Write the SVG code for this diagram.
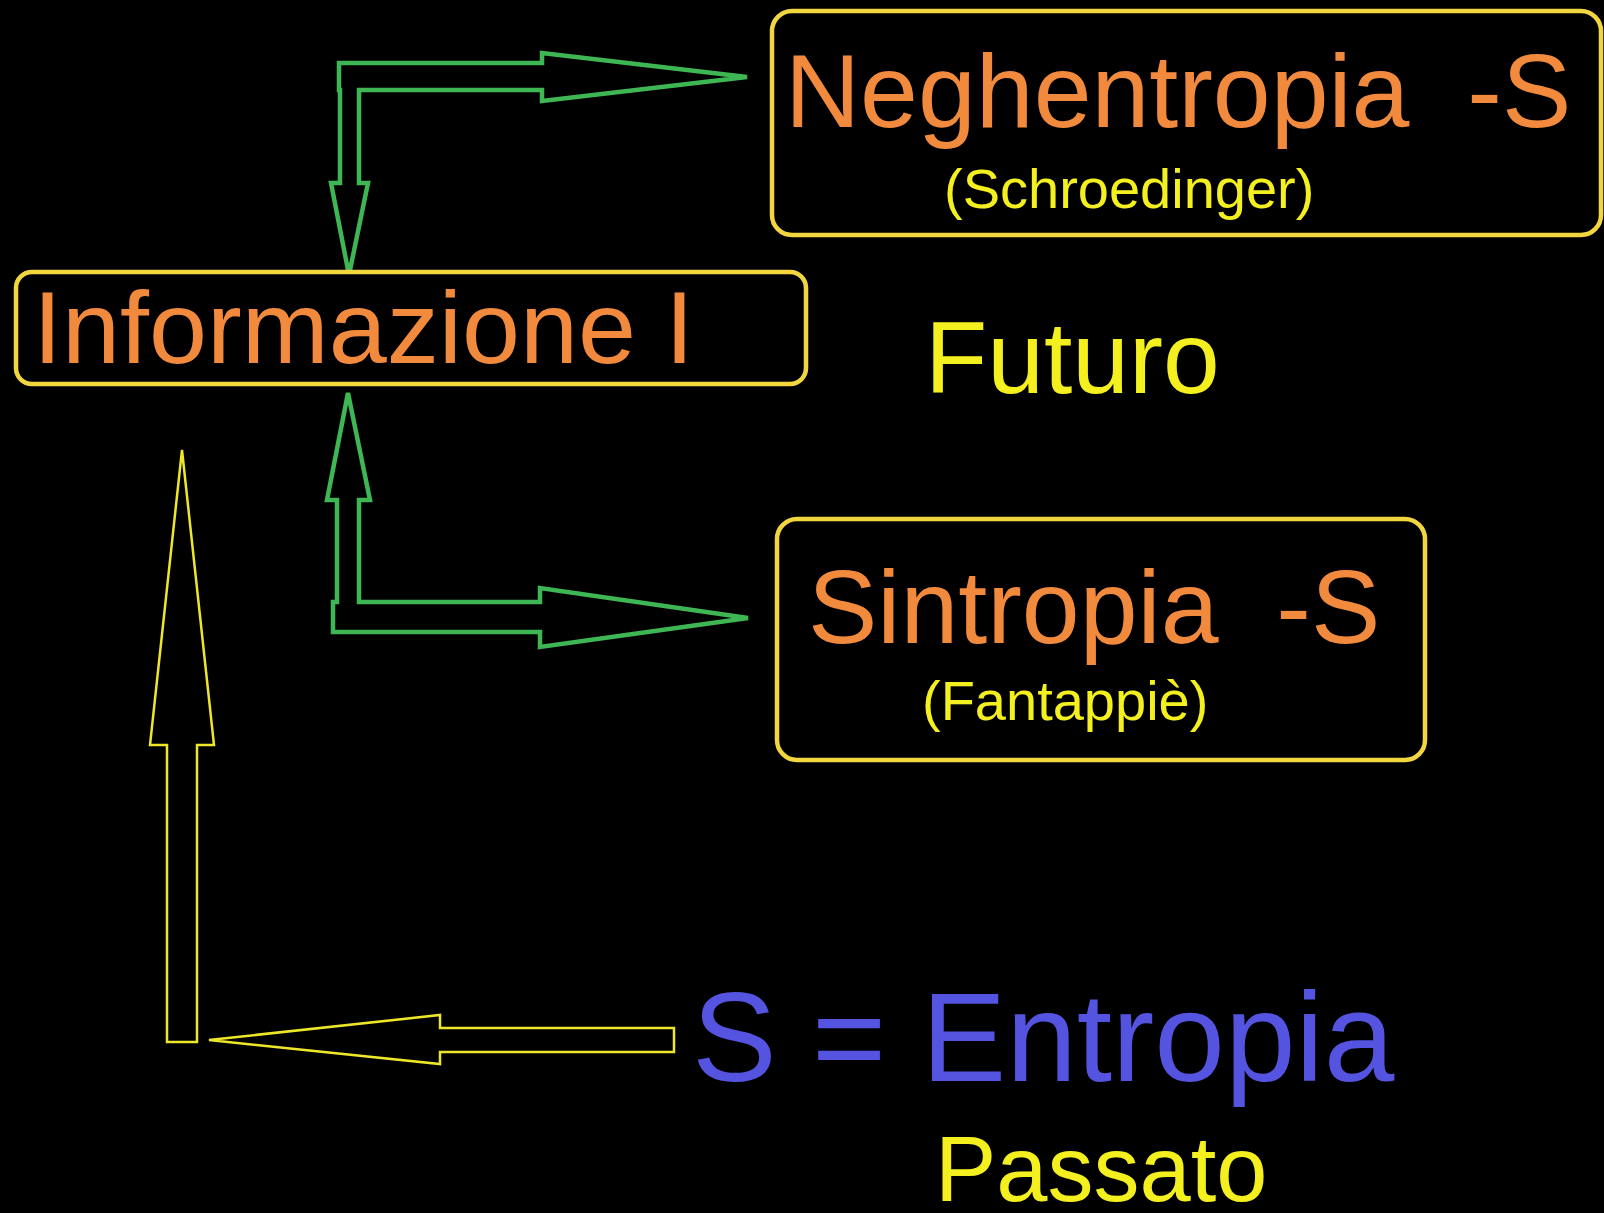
<svg xmlns="http://www.w3.org/2000/svg" width="1604" height="1213" viewBox="0 0 1604 1213">
<style>
.box{fill:#000;stroke:#f2d640;stroke-width:4.5}
.t{font-family:"Liberation Sans",Arial,sans-serif;white-space:pre}
.org{fill:#f28a3e}
.yel{fill:#f4ef1e}
.blu{fill:#5454e0}
.g{fill:none;stroke:#3db653;stroke-width:4.5;stroke-linejoin:miter}
.y{fill:none;stroke:#eee628;stroke-width:2.5;stroke-linejoin:miter}
</style>
<rect width="1604" height="1213" fill="#000"/>
<g id="connectors">
<polygon class="g" points="339,63 542,63 542,53 747,77 542,101 542,90 359,90 359,183 368,183 349,275 331,183 340,183 340,90 339,90"/>
<polygon class="g" points="359,602 540,602 540,588 748,618 540,647 540,632 333,632 333,602 337,602 337,500 327,500 348,393 370,500 359,500"/>
<polygon class="y" points="182,450 214,745 197,745 197,1042 167,1042 167,745 150,745"/>
<polygon class="y" points="209,1040 440,1015 440,1028 674,1028 674,1052 440,1052 440,1064"/>
</g>
<g id="node-neghentropia">
<rect class="box" x="772" y="11" width="829" height="224" rx="20"/>
<text class="t org" x="785" y="127" font-size="104" xml:space="preserve">Neghentropia  -S</text>
<text class="t yel" x="944" y="208" font-size="56">(Schroedinger)</text>
</g>
<g id="node-informazione">
<rect class="box" x="16" y="272" width="790" height="112" rx="16"/>
<text class="t org" x="33" y="363" font-size="102" textLength="661" lengthAdjust="spacingAndGlyphs">Informazione I</text>
</g>
<g id="label-futuro">
<text class="t yel" x="925" y="393" font-size="102">Futuro</text>
</g>
<g id="node-sintropia">
<rect class="box" x="777" y="519" width="648" height="241" rx="20"/>
<text class="t org" x="808" y="643" font-size="104" xml:space="preserve">Sintropia  -S</text>
<text class="t yel" x="922" y="720" font-size="56">(Fantappiè)</text>
</g>
<g id="node-entropia">
<text class="t blu" x="692" y="1081" font-size="127">S = Entropia</text>
</g>
<g id="label-passato">
<text class="t yel" x="935" y="1201" font-size="92">Passato</text>
</g>
</svg>
